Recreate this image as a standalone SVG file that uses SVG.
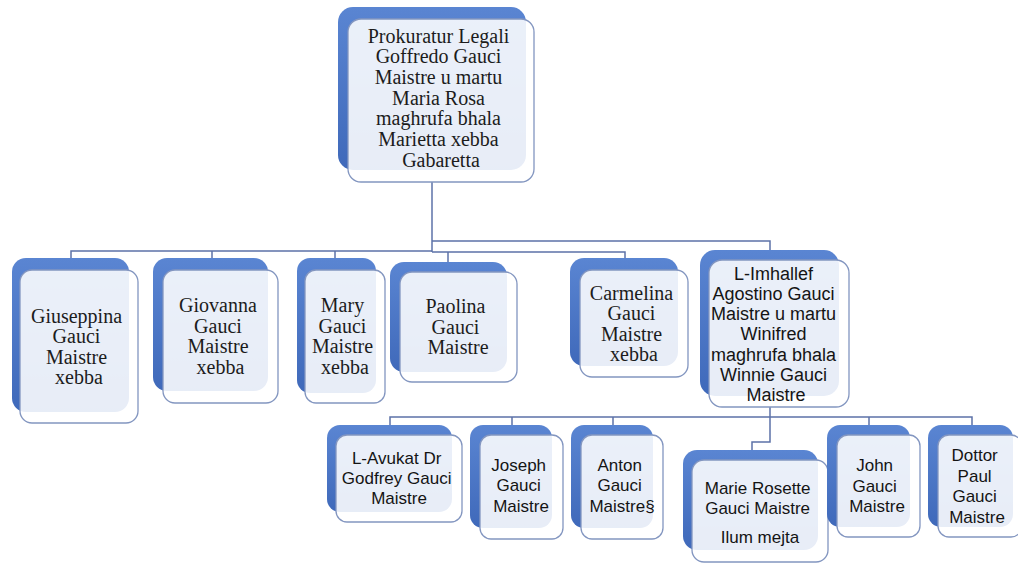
<svg xmlns="http://www.w3.org/2000/svg" width="1018" height="565" viewBox="0 0 1018 565">
<defs>
<linearGradient id="gb" x1="0" y1="0" x2="0" y2="1">
<stop offset="0" stop-color="#5A85D2"/>
<stop offset="1" stop-color="#3F69BA"/>
</linearGradient>
<style>
.back{fill:url(#gb);}
.front{fill:#ffffff;fill-opacity:0.88;stroke:#8396C0;stroke-width:1.3;}
.serif{font-family:"Liberation Serif","Times New Roman",serif;font-size:20px;fill:#1c1c1c;text-anchor:middle;}
.sans18{font-family:"Liberation Sans",Arial,sans-serif;font-size:18px;fill:#141414;text-anchor:middle;}
.sans17{font-family:"Liberation Sans",Arial,sans-serif;font-size:17px;fill:#141414;text-anchor:middle;}
.conn{fill:none;stroke:#5C72A8;stroke-width:1.5;}
</style>
</defs>
<rect width="1018" height="565" fill="#ffffff"/>

<g id="connectors">
<path class="conn" d="M432,182 V252"/>
<path class="conn" d="M71,259 V251 H432"/>
<path class="conn" d="M212,251 V259"/>
<path class="conn" d="M335,251 V259"/>
<path class="conn" d="M432,252 H625 V259"/>
<path class="conn" d="M448,252 V263"/>
<path class="conn" d="M432,241 H770 V251"/>
<path class="conn" d="M770,407 V442 H752 V451"/>
<path class="conn" d="M390,426 V417 H972 V426"/>
<path class="conn" d="M512,417 V426"/>
<path class="conn" d="M613,417 V426"/>
<path class="conn" d="M869,417 V426"/>
</g>

<g id="node-root">
<rect class="back" x="338" y="7" width="188" height="163" rx="15"/>
<rect class="front" x="348" y="19" width="186" height="163" rx="13"/>
<text class="serif" x="441">
<tspan x="441" y="42.5">Prokuratur Legali</tspan>
<tspan x="441" y="63.2">Goffredo Gauci</tspan>
<tspan x="441" y="83.8">Maistre u martu</tspan>
<tspan x="441" y="104.5">Maria Rosa</tspan>
<tspan x="441" y="125.2">maghrufa bhala</tspan>
<tspan x="441" y="145.8">Marietta xebba</tspan>
<tspan x="441" y="166.5">Gabaretta</tspan>
</text>
</g>

<g id="node-giuseppina">
<rect class="back" x="12" y="258" width="117" height="154" rx="14"/>
<rect class="front" x="20" y="270" width="118" height="153" rx="12"/>
<text class="serif">
<tspan x="79" y="322.5">Giuseppina</tspan>
<tspan x="79" y="343">Gauci</tspan>
<tspan x="79" y="363.5">Maistre</tspan>
<tspan x="79" y="384">xebba</tspan>
</text>
</g>

<g id="node-giovanna">
<rect class="back" x="153" y="258" width="115" height="133" rx="14"/>
<rect class="front" x="163" y="270" width="115" height="133" rx="12"/>
<text class="serif">
<tspan x="220.5" y="312">Giovanna</tspan>
<tspan x="220.5" y="332.5">Gauci</tspan>
<tspan x="220.5" y="353">Maistre</tspan>
<tspan x="220.5" y="373.5">xebba</tspan>
</text>
</g>

<g id="node-mary">
<rect class="back" x="297" y="258" width="79" height="135" rx="13"/>
<rect class="front" x="305" y="270" width="80" height="133" rx="11"/>
<text class="serif">
<tspan x="345" y="312">Mary</tspan>
<tspan x="345" y="332.5">Gauci</tspan>
<tspan x="345" y="353">Maistre</tspan>
<tspan x="345" y="373.5">xebba</tspan>
</text>
</g>

<g id="node-paolina">
<rect class="back" x="390" y="262" width="117" height="110" rx="14"/>
<rect class="front" x="400" y="272" width="117" height="110" rx="12"/>
<text class="serif">
<tspan x="458" y="313">Paolina</tspan>
<tspan x="458" y="333.5">Gauci</tspan>
<tspan x="458" y="354">Maistre</tspan>
</text>
</g>

<g id="node-carmelina">
<rect class="back" x="570" y="258" width="108" height="108" rx="14"/>
<rect class="front" x="580" y="270" width="108" height="107" rx="12"/>
<text class="serif">
<tspan x="634" y="299.5">Carmelina</tspan>
<tspan x="634" y="320">Gauci</tspan>
<tspan x="634" y="340.5">Maistre</tspan>
<tspan x="634" y="361">xebba</tspan>
</text>
</g>

<g id="node-imhallef">
<rect class="back" x="700" y="250" width="139" height="146" rx="15"/>
<rect class="front" x="709" y="260" width="140" height="147" rx="13"/>
<text class="sans18">
<tspan x="776" y="279.5">L-Imhallef</tspan>
<tspan x="776" y="299.8">Agostino Gauci</tspan>
<tspan x="776" y="320">Maistre u martu</tspan>
<tspan x="776" y="340.3">Winifred</tspan>
<tspan x="776" y="360.6">maghrufa bhala</tspan>
<tspan x="776" y="381">Winnie Gauci</tspan>
<tspan x="776" y="401.2">Maistre</tspan>
</text>
</g>

<g id="node-avukat">
<rect class="back" x="327" y="425" width="125" height="87" rx="13"/>
<rect class="front" x="336" y="435" width="126" height="87" rx="11"/>
<text class="sans17">
<tspan x="399" y="464">L-Avukat Dr</tspan>
<tspan x="399" y="484">Godfrey Gauci</tspan>
<tspan x="399" y="504">Maistre</tspan>
</text>
</g>

<g id="node-joseph">
<rect class="back" x="470" y="425" width="82" height="103" rx="13"/>
<rect class="front" x="480" y="435" width="83" height="104" rx="11"/>
<text class="sans17">
<tspan x="521" y="471">Joseph</tspan>
<tspan x="521" y="491">Gauci</tspan>
<tspan x="521" y="512">Maistre</tspan>
</text>
</g>

<g id="node-anton">
<rect class="back" x="571" y="425" width="82" height="103" rx="13"/>
<rect class="front" x="581" y="435" width="82" height="104" rx="11"/>
<text class="sans17">
<tspan x="622" y="471">Anton</tspan>
<tspan x="622" y="491">Gauci</tspan>
<tspan x="622" y="512">Maistre§</tspan>
</text>
</g>

<g id="node-marie">
<rect class="back" x="683" y="450" width="135" height="100" rx="14"/>
<rect class="front" x="692" y="460" width="136" height="102" rx="12"/>
<text class="sans17">
<tspan x="760" y="494">Marie Rosette</tspan>
<tspan x="760" y="514">Gauci Maistre</tspan>
<tspan x="760" y="543">Ilum mejta</tspan>
</text>
</g>

<g id="node-john">
<rect class="back" x="827" y="425" width="83" height="102" rx="13"/>
<rect class="front" x="837" y="435" width="83" height="102" rx="11"/>
<text class="sans17">
<tspan x="877" y="471">John</tspan>
<tspan x="877" y="491.5">Gauci</tspan>
<tspan x="877" y="512">Maistre</tspan>
</text>
</g>

<g id="node-dottor">
<rect class="back" x="928" y="425" width="85" height="102" rx="13"/>
<rect class="front" x="938" y="435" width="84" height="102" rx="11"/>
<text class="sans17">
<tspan x="977" y="461">Dottor</tspan>
<tspan x="977" y="481.5">Paul</tspan>
<tspan x="977" y="502">Gauci</tspan>
<tspan x="977" y="523">Maistre</tspan>
</text>
</g>
</svg>
